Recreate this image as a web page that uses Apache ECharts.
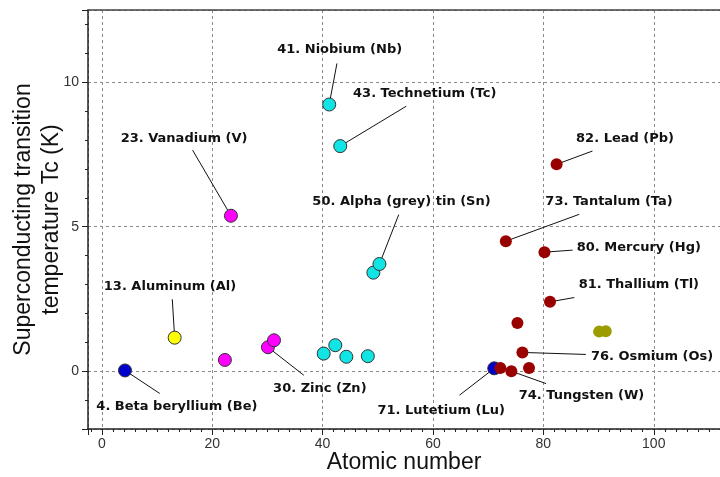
<!DOCTYPE html>
<html>
<head>
<meta charset="utf-8">
<script src="https://cdn.jsdelivr.net/npm/echarts@6/dist/echarts.min.js"></script>
<style>html,body{margin:0;padding:0;background:#fff}#c{width:720px;height:477px}</style>
</head>
<body>
<div id="c"></div>
<script>
// ---- data: [atomic number (as plotted), Tc (K)] ----
const blueGroup    = [[4.2, 0.026], [71.1, 0.1]];
const yellowGroup  = [[13.2, 1.16]];
const magentaGroup = [[22.3, 0.39], [23.4, 5.38], [30.1, 0.83], [31.2, 1.07]];
const cyanGroup    = [[40.2, 0.61], [41.2, 9.23], [42.3, 0.9], [43.2, 7.79], [44.3, 0.5], [48.2, 0.52], [49.2, 3.41], [50.3, 3.71]];
const redGroup     = [[72.2, 0.11], [73.2, 4.5], [74.2, 0.0], [75.3, 1.67], [76.2, 0.65], [77.4, 0.11], [80.2, 4.12], [81.2, 2.4], [82.4, 7.16]];
const oliveGroup   = [[90.1, 1.37], [91.3, 1.38]];

const xTitle = 'Atomic number';
const yTitle = 'Superconducting transition\ntemperature Tc (K)';

// annotation texts and the point each refers to: [group, index]
const annotText  = ['41. Niobium (Nb)', '43. Technetium (Tc)', '23. Vanadium (V)', '82. Lead (Pb)',
                    '50. Alpha (grey) tin (Sn)', '73. Tantalum (Ta)', '80. Mercury (Hg)', '81. Thallium (Tl)',
                    '13. Aluminum (Al)', '30. Zinc (Zn)', '4. Beta beryllium (Be)', '76. Osmium (Os)',
                    '74. Tungsten (W)', '71. Lutetium (Lu)'];
const annotRef   = [['cyan', 1], ['cyan', 3], ['magenta', 1], ['red', 8],
                    ['cyan', 7], ['red', 1], ['red', 6], ['red', 7],
                    ['yellow', 0], ['magenta', 2], ['blue', 0], ['red', 4],
                    ['red', 2], ['blue', 1]];
// layout (data coordinates): text centre and leader-line end
const annotTextPos = [[43.1, 11.14], [58.5, 9.62], [14.9, 8.06], [94.8, 8.06],
                      [54.3, 5.88], [91.9, 5.88], [97.3, 4.29], [97.3, 2.98],
                      [12.35, 2.92], [39.5, -0.59], [13.6, -1.21], [99.7, 0.52],
                      [86.9, -0.83], [61.5, -1.35]];
const annotLineEnd = [[42.6, 10.65], [55.15, 9.17], [16.45, 7.65], [88.9, 7.62],
                      [53.8, 5.42], [86.5, 5.43], [85.3, 4.19], [85.6, 2.55],
                      [12.77, 2.49], [36.6, -0.14], [10.5, -0.77], [87.7, 0.58],
                      [80.5, -0.43], [64.8, -0.83]];

const groups = {blue: blueGroup, yellow: yellowGroup, magenta: magentaGroup, cyan: cyanGroup, red: redGroup, olive: oliveGroup};

const chart = echarts.init(document.getElementById('c'), null, {renderer: 'canvas'});

function pts(data, color, size, border) {
  return {
    type: 'scatter', data: data, symbol: 'circle', symbolSize: size, z: 5,
    itemStyle: {color: color, borderColor: border || color, borderWidth: border ? 1 : 0, opacity: 1},
    emphasis: {disabled: true}, silent: true
  };
}

const option = {
  backgroundColor: '#fff',
  animation: false,
  grid: {left: 88, right: 0, top: 10, bottom: 48, containLabel: false, outerBoundsMode: 'none'},
  xAxis: [{
    type: 'value', min: -2.5, max: 112, minInterval: 20, maxInterval: 20,
    name: xTitle, nameLocation: 'middle', nameGap: 22, nameMoveOverlap: false,
    nameTextStyle: {fontFamily: 'Liberation Sans', fontSize: 23, color: '#111'},
    axisLine: {show: true, onZero: false, lineStyle: {color: '#222', width: 1.5}},
    axisTick: {show: true, inside: false, length: 6, lineStyle: {color: '#222'}},
    minorTick: {show: true, splitNumber: 10, length: 3, lineStyle: {color: '#222'}},
    axisLabel: {fontFamily: 'Liberation Sans', fontSize: 14, color: '#333', margin: 8, showMinLabel: false, showMaxLabel: false},
    splitLine: {show: true, lineStyle: {color: '#8a8a8a', type: [3, 3], width: 1}}
  }, {
    type: 'value', position: 'top', min: -2.5, max: 112,
    axisLine: {show: true, onZero: false, lineStyle: {color: '#444', width: 1.5}},
    axisTick: {show: false}, axisLabel: {show: false}, splitLine: {show: false}
  }],
  yAxis: {
    type: 'value', min: -2, max: 12.5, minInterval: 5, maxInterval: 5,
    name: yTitle, nameLocation: 'middle', nameGap: 22, nameRotate: 90, nameMoveOverlap: false,
    nameTextStyle: {fontFamily: 'Liberation Sans', fontSize: 23, color: '#111', lineHeight: 28},
    axisLine: {show: true, onZero: false, lineStyle: {color: '#222', width: 1.5}},
    axisTick: {show: true, inside: false, length: 6, lineStyle: {color: '#222'}},
    minorTick: {show: true, splitNumber: 5, length: 3, lineStyle: {color: '#222'}},
    axisLabel: {fontFamily: 'Liberation Sans', fontSize: 14, color: '#333', margin: 9, showMinLabel: false, showMaxLabel: false},
    splitLine: {show: true, lineStyle: {color: '#8a8a8a', type: [3, 3], width: 1}}
  },
  series: [
    {
      type: 'lines', coordinateSystem: 'cartesian2d', z: 3, silent: true,
      lineStyle: {color: '#111', width: 1, opacity: 1},
      data: annotRef.map((r, i) => ({coords: [groups[r[0]][r[1]], annotLineEnd[i]]}))
    },
    pts(blueGroup, '#0000cc', 13, '#333'),
    pts(yellowGroup, '#ffff00', 13, '#333'),
    pts(magentaGroup, '#ff00ff', 13, '#333'),
    pts(cyanGroup, '#11e4e4', 13, '#333'),
    pts(redGroup, '#990000', 12, null),
    pts(oliveGroup, '#9c9c00', 12, null),
    {
      type: 'custom', coordinateSystem: 'cartesian2d', z: 6, silent: true,
      data: annotTextPos.map((p, i) => [p[0], p[1], i]),
      renderItem: function (params, api) {
        const c = api.coord([api.value(0), api.value(1)]);
        return {
          type: 'text', x: c[0], y: c[1],
          style: {
            text: annotText[api.value(2)], x: 0, y: 0, align: 'center', verticalAlign: 'middle',
            font: 'bold 13px "DejaVu Sans"', fill: '#111'
          }
        };
      }
    }
  ]
};
chart.setOption(option);
</script>
</body>
</html>
